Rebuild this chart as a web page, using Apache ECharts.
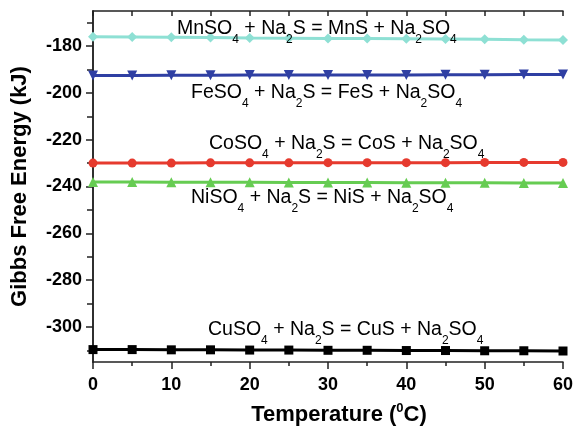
<!DOCTYPE html>
<html>
<head>
<meta charset="utf-8">
<script src="https://cdn.jsdelivr.net/npm/echarts@6/dist/echarts.min.js"></script>
<style>
html,body{margin:0;padding:0;background:#fff;}
#chart{width:576px;height:427px;}
</style>
</head>
<body>
<div id="chart"></div>
<script>
// ---- data ----
const temperatures = [0, 5, 10, 15, 20, 25, 30, 35, 40, 45, 50, 55, 60];
const mnValues = [-176.0, -176.1, -176.2, -176.3, -176.5, -176.6, -176.7, -176.8, -176.9, -177.0, -177.1, -177.3, -177.4];
const feValues = [-192.6, -192.6, -192.5, -192.5, -192.4, -192.4, -192.4, -192.3, -192.3, -192.2, -192.2, -192.1, -192.1];
const coValues = [-230.0, -230.0, -230.0, -229.9, -229.9, -229.9, -229.8, -229.8, -229.8, -229.8, -229.7, -229.7, -229.7];
const niValues = [-238.1, -238.1, -238.2, -238.2, -238.2, -238.3, -238.3, -238.3, -238.4, -238.4, -238.4, -238.5, -238.5];
const cuValues = [-309.7, -309.7, -309.8, -309.8, -309.9, -309.9, -310.0, -310.0, -310.1, -310.1, -310.2, -310.2, -310.3];
const yMajorTicks = [-300, -280, -260, -240, -220, -200, -180];
const yMinorTicks = [-310, -300, -290, -280, -270, -260, -250, -240, -230, -220, -210, -200, -190, -180, -170];
const xRange = [0, 60];
const yRange = [-315, -165];

const chart = echarts.init(document.getElementById('chart'), null, {renderer: 'canvas'});
const axisColor = '#222';
const labelFont = 'Liberation Sans, Arial, sans-serif';

function pairs(vals) { return temperatures.map((t, i) => [t, vals[i]]); }

function mkSeries(name, vals, color, symbol, size, rotate) {
  return {
    name, type: 'line', data: pairs(vals), xAxisIndex: 0, yAxisIndex: 0,
    symbol, symbolSize: size, symbolRotate: rotate || 0, showAllSymbol: true,
    lineStyle: {color, width: 3}, itemStyle: {color}, clip: false,
    z: 3, animation: false
  };
}

function eq(m) {
  return `{n|${m}SO}{s|4}{n| + Na}{s|2}{n|S = ${m}S + Na}{s|2}{n|SO}{s|4}`;
}
const rich = {
  n: {fontSize: 19.5, fontFamily: labelFont, color: '#000', lineHeight: 34},
  s: {fontSize: 12, fontFamily: labelFont, color: '#000', verticalAlign: 'bottom'}
};
function ann(m, x, y) {
  return {type: 'text', x, y, z: 10, style: {text: eq(m), rich, align: 'left', verticalAlign: 'middle'}};
}

chart.setOption({
  animation: false,
  grid: {left: 93, right: 13, top: 11, bottom: 65, containLabel: false, outerBoundsMode: 'none'},
  xAxis: [
    {type: 'value', position: 'bottom', min: xRange[0], max: xRange[1], interval: 10,
     axisLine: {show: true, lineStyle: {color: axisColor, width: 1.5}},
     axisTick: {show: true, inside: false, length: 7, lineStyle: {color: axisColor, width: 1.5}},
     axisLabel: {color: '#000', fontSize: 18, fontWeight: 'bold', fontFamily: labelFont, margin: 14},
     splitLine: {show: false},
     name: '{a|Temperature (}{b|0}{a|C)}', nameLocation: 'middle', nameGap: 40,
     nameTextStyle: {padding: [0, 0, 0, 22], rich: {
       a: {fontSize: 22, fontWeight: 'bold', fontFamily: labelFont, color: '#000', lineHeight: 26},
       b: {fontSize: 13, fontWeight: 'bold', fontFamily: labelFont, color: '#000', lineHeight: 26, verticalAlign: 'top'}
     }}},
    {type: 'value', position: 'bottom', min: xRange[0], max: xRange[1], interval: 5,
     axisLine: {show: false},
     axisTick: {show: true, inside: false, length: 4, lineStyle: {color: axisColor, width: 1.5}},
     axisLabel: {show: false}, splitLine: {show: false}},
    {type: 'value', position: 'top', min: xRange[0], max: xRange[1], interval: 5,
     axisLine: {show: true, lineStyle: {color: axisColor, width: 1.5}},
     axisTick: {show: true, inside: true, length: 5, lineStyle: {color: axisColor, width: 1.5}},
     axisLabel: {show: false}, splitLine: {show: false}}
  ],
  yAxis: [
    {type: 'value', position: 'left', min: yRange[0], max: yRange[1],
     axisLine: {show: true, lineStyle: {color: axisColor, width: 1.5}},
     axisTick: {show: true, inside: false, length: 7, customValues: yMajorTicks, lineStyle: {color: axisColor, width: 1.5}},
     axisLabel: {color: '#000', fontSize: 18, fontWeight: 'bold', fontFamily: labelFont, margin: 11, customValues: yMajorTicks},
     splitLine: {show: false},
     name: 'Gibbs Free Energy (kJ)', nameLocation: 'middle', nameGap: 62, nameRotate: 90,
     nameTextStyle: {fontSize: 22, fontWeight: 'bold', fontFamily: labelFont, color: '#000'}},
    {type: 'value', position: 'left', min: yRange[0], max: yRange[1],
     axisLine: {show: false},
     axisTick: {show: true, inside: false, length: 4, customValues: yMinorTicks, lineStyle: {color: axisColor, width: 1.5}},
     axisLabel: {show: false}, splitLine: {show: false}},
    {type: 'value', position: 'right', min: yRange[0], max: yRange[1],
     axisLine: {show: true, lineStyle: {color: axisColor, width: 1.5}},
     axisTick: {show: true, inside: true, length: 6, customValues: yMinorTicks, lineStyle: {color: axisColor, width: 1.5}},
     axisLabel: {show: false}, splitLine: {show: false}}
  ],
  series: [
    mkSeries('MnS', mnValues, '#8ee0d4', 'diamond', 10),
    mkSeries('FeS', feValues, '#2f3fa3', 'triangle', 10, 180),
    mkSeries('CoS', coValues, '#e63a2e', 'circle', 9),
    mkSeries('NiS', niValues, '#66cc52', 'triangle', 10),
    mkSeries('CuS', cuValues, '#000000', 'rect', 9)
  ],
  graphic: [
    ann('Mn', 177, 28.5),
    ann('Fe', 191, 92.5),
    ann('Co', 209, 143.5),
    ann('Ni', 191, 197.5),
    ann('Cu', 208, 330)
  ]
});
</script>
</body>
</html>
